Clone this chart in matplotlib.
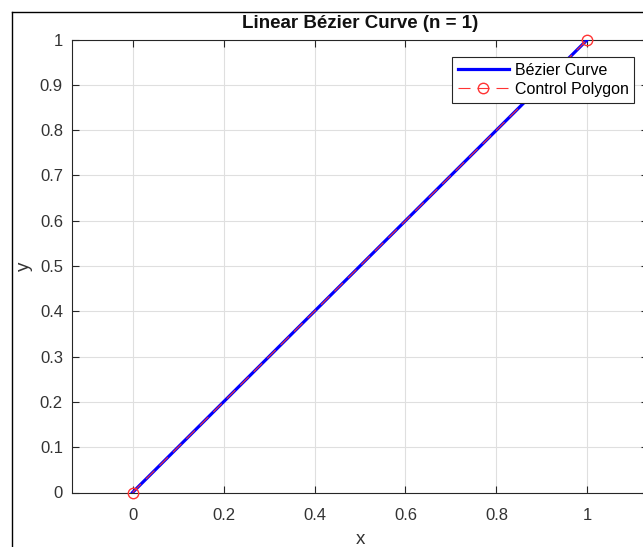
import matplotlib
matplotlib.use("Agg")
import matplotlib.pyplot as plt
import numpy as np
from matplotlib.lines import Line2D

plt.rcParams['font.family'] = ['Liberation Sans', 'DejaVu Sans']

ctrl_x = [0, 1]
ctrl_y = [0, 1]
t = np.linspace(0, 1, 101)
curve_x = (1 - t) * ctrl_x[0] + t * ctrl_x[1]
curve_y = (1 - t) * ctrl_y[0] + t * ctrl_y[1]

xticks = [0, 0.2, 0.4, 0.6, 0.8, 1]
xticklabels = ['0', '0.2', '0.4', '0.6', '0.8', '1']
yticks = [0, 0.1, 0.2, 0.3, 0.4, 0.5, 0.6, 0.7, 0.8, 0.9, 1]
yticklabels = ['0', '0.1', '0.2', '0.3', '0.4', '0.5', '0.6', '0.7', '0.8', '0.9', '1']

W, H = 643, 547
fig = plt.figure(figsize=(W / 100, H / 100), dpi=100)
ax_l, ax_r, ax_t, ax_b = 72, 648, 39.5, 492.5
ax = fig.add_axes([ax_l / W, (H - ax_b) / H, (ax_r - ax_l) / W, (ax_b - ax_t) / H])

ax.plot(curve_x, curve_y, color='#0000ff', lw=2.3, label='Bézier Curve', zorder=3)
ax.plot(ctrl_x, ctrl_y, color='#ff3333', lw=0.8, ls=(0, (10.8, 6.3)), marker='o',
        markersize=7.5, markerfacecolor='none', markeredgecolor='#ff3333',
        markeredgewidth=1.0, label='Control Polygon', zorder=4, clip_on=False)

ax.set_xlim(-0.133, 1.133)
ax.set_ylim(0, 1)
ax.set_xticks(xticks)
ax.set_xticklabels(xticklabels)
ax.set_yticks(yticks)
ax.set_yticklabels(yticklabels)
ax.tick_params(direction='in', length=5, width=0.8, color='#262626',
               labelsize=12, labelcolor='#333333', top=True, right=True)
ax.tick_params(axis='x', pad=11)
ax.tick_params(axis='y', pad=6.5)
ax.grid(True, color='#dfdfdf', lw=0.8)
ax.set_axisbelow(True)
for s in ax.spines.values():
    s.set_color('#262626')
    s.set_linewidth(0.8)

ax.set_title('Linear Bézier Curve (n = 1)', fontsize=13.5, fontweight='bold', color='#111111', pad=8.5)
ax.set_xlabel('x', fontsize=13.5, color='#333333', labelpad=6)
ax.set_ylabel('y', fontsize=13.5, color='#333333', labelpad=5)

leg = ax.legend(loc='upper right', bbox_to_anchor=((634 - ax_l) / (ax_r - ax_l), (ax_b - 57) / (ax_b - ax_t)),
                bbox_transform=ax.transAxes, fontsize=11.5, frameon=True, fancybox=False,
                edgecolor='#262626', framealpha=1, borderpad=0.35, labelspacing=0.28,
                handlelength=3.2, handletextpad=0.35, borderaxespad=0)
leg.get_frame().set_linewidth(0.8)

# screenshot frame lines
fig.add_artist(Line2D([11.5 / W, 11.5 / W], [0, 1 - 11.5 / H], transform=fig.transFigure, color='black', lw=1))
fig.add_artist(Line2D([11.5 / W, 1], [1 - 11.5 / H, 1 - 11.5 / H], transform=fig.transFigure, color='black', lw=1))

fig.savefig('out.png', dpi=100)
